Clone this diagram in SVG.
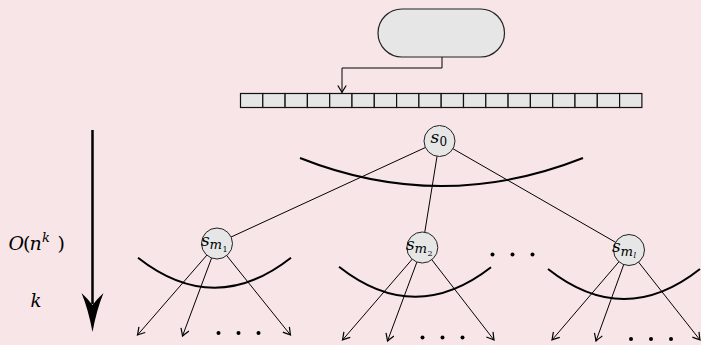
<svg xmlns="http://www.w3.org/2000/svg" width="701" height="345" viewBox="0 0 701 345">
  <style>
    .bg { fill: #f8e5e7; }
    .box { fill: #e6e6e6; stroke: #222; stroke-width: 1.2; }
    .cell { fill: #e6e6e6; stroke: #111; stroke-width: 1.2; }
    .node { fill: #e6e6e6; stroke: #222; stroke-width: 1; }
    .edge { fill: none; stroke: #000; stroke-width: 1; }
    .arc { fill: none; stroke: #000; stroke-width: 2; }
    .dot { fill: #000; }
    .mi { font-family: 'DejaVu Serif', 'Liberation Serif', serif; font-style: italic; fill: #000; }
    .mr { font-family: 'DejaVu Serif', 'Liberation Serif', serif; fill: #000; }
  </style>
  <defs>
    <marker id="to" viewBox="-8 -5 10 10" refX="0" refY="0" markerWidth="10" markerHeight="10" markerUnits="userSpaceOnUse" orient="auto">
      <path d="M-7,-4.2 Q-2,-1.1 0,0 Q-2,1.1 -7,4.2" fill="none" stroke="#000" stroke-width="1.2"/>
    </marker>
  </defs>

  <rect class="bg" x="0" y="0" width="701" height="345"/>

  <!-- connectors -->
  <g id="connectors">
    <path class="edge" d="M442,57 V68 H342 V92.5" marker-end="url(#to)"/>
    <line class="edge" x1="439.5" y1="141" x2="217" y2="243.5"/>
    <line class="edge" x1="439.5" y1="141" x2="422.3" y2="247.5"/>
    <line class="edge" x1="439.5" y1="141" x2="629" y2="250"/>

    <line class="edge" x1="217" y1="243.5" x2="137.5" y2="335" marker-end="url(#to)"/>
    <line class="edge" x1="217" y1="243.5" x2="182.5" y2="336" marker-end="url(#to)"/>
    <line class="edge" x1="217" y1="243.5" x2="290.5" y2="335" marker-end="url(#to)"/>

    <line class="edge" x1="422.3" y1="247.5" x2="342.5" y2="340" marker-end="url(#to)"/>
    <line class="edge" x1="422.3" y1="247.5" x2="387.5" y2="341" marker-end="url(#to)"/>
    <line class="edge" x1="422.3" y1="247.5" x2="494" y2="340" marker-end="url(#to)"/>

    <line class="edge" x1="629" y1="250" x2="552" y2="340" marker-end="url(#to)"/>
    <line class="edge" x1="629" y1="250" x2="596" y2="341" marker-end="url(#to)"/>
    <line class="edge" x1="629" y1="250" x2="700" y2="340" marker-end="url(#to)"/>
  </g>

  <!-- level arcs -->
  <g id="arcs">
    <path class="arc" d="M300,158 Q441,214 583,158"/>
    <path class="arc" d="M138,257.7 Q214.5,317.7 291,257.7"/>
    <path class="arc" d="M339,266.7 Q415,326.5 491,267.3"/>
    <path class="arc" d="M548,269 Q624,329 700,269"/>
  </g>

  <!-- rounded box -->
  <g id="pill">
    <rect class="box" x="378" y="9" width="126.5" height="48" rx="24" ry="24"/>
  </g>

  <!-- array of 18 cells -->
  <g id="array">
    <rect class="cell" x="240.5" y="93.5" width="22.3" height="14"/>
    <rect class="cell" x="262.8" y="93.5" width="22.3" height="14"/>
    <rect class="cell" x="285.1" y="93.5" width="22.3" height="14"/>
    <rect class="cell" x="307.4" y="93.5" width="22.3" height="14"/>
    <rect class="cell" x="329.7" y="93.5" width="22.3" height="14"/>
    <rect class="cell" x="352.0" y="93.5" width="22.3" height="14"/>
    <rect class="cell" x="374.3" y="93.5" width="22.3" height="14"/>
    <rect class="cell" x="396.6" y="93.5" width="22.3" height="14"/>
    <rect class="cell" x="418.9" y="93.5" width="22.3" height="14"/>
    <rect class="cell" x="441.2" y="93.5" width="22.3" height="14"/>
    <rect class="cell" x="463.5" y="93.5" width="22.3" height="14"/>
    <rect class="cell" x="485.8" y="93.5" width="22.3" height="14"/>
    <rect class="cell" x="508.1" y="93.5" width="22.3" height="14"/>
    <rect class="cell" x="530.4" y="93.5" width="22.3" height="14"/>
    <rect class="cell" x="552.7" y="93.5" width="22.3" height="14"/>
    <rect class="cell" x="575.0" y="93.5" width="22.3" height="14"/>
    <rect class="cell" x="597.3" y="93.5" width="22.3" height="14"/>
    <rect class="cell" x="619.6" y="93.5" width="22.3" height="14"/>
  </g>

  <!-- tree nodes -->
  <g id="s0">
    <circle class="node" cx="439.5" cy="141" r="15.5"/>
    <text class="mi" x="430.5" y="143" font-size="17">s</text>
    <text class="mr" x="439.5" y="145.5" font-size="12">0</text>
  </g>
  <g id="sm1">
    <circle class="node" cx="217" cy="243.5" r="15.5"/>
    <text class="mi" x="201" y="245.5" font-size="17">s</text>
    <text class="mi" x="209.5" y="249" font-size="13" textLength="12.5" lengthAdjust="spacingAndGlyphs">m</text>
    <text class="mr" x="222.5" y="251.5" font-size="8">1</text>
  </g>
  <g id="sm2">
    <circle class="node" cx="422.3" cy="247.5" r="15.5"/>
    <text class="mi" x="406" y="249.5" font-size="17">s</text>
    <text class="mi" x="414.5" y="253" font-size="13" textLength="12.5" lengthAdjust="spacingAndGlyphs">m</text>
    <text class="mr" x="427.5" y="255.5" font-size="8">2</text>
  </g>
  <g id="sml">
    <circle class="node" cx="629" cy="250" r="15.5"/>
    <text class="mi" x="612" y="252" font-size="17">s</text>
    <text class="mi" x="620.5" y="255.5" font-size="13" textLength="12.5" lengthAdjust="spacingAndGlyphs">m</text>
    <text class="mi" x="633.5" y="258" font-size="8">l</text>
  </g>

  <!-- ellipsis dots -->
  <g id="dots">
    <circle class="dot" cx="218.5" cy="333" r="2"/>
    <circle class="dot" cx="238.5" cy="333" r="2"/>
    <circle class="dot" cx="258.5" cy="333" r="2"/>
    <circle class="dot" cx="422.5" cy="337.5" r="2"/>
    <circle class="dot" cx="442.5" cy="337.5" r="2"/>
    <circle class="dot" cx="462.5" cy="337.5" r="2"/>
    <circle class="dot" cx="631" cy="339" r="2"/>
    <circle class="dot" cx="651" cy="339" r="2"/>
    <circle class="dot" cx="671" cy="339" r="2"/>
    <circle class="dot" cx="492.5" cy="254.5" r="2"/>
    <circle class="dot" cx="512.5" cy="254.5" r="2"/>
    <circle class="dot" cx="532.5" cy="254.5" r="2"/>
  </g>

  <!-- depth arrow and labels -->
  <g id="depth-arrow">
    <line x1="92.5" y1="130" x2="92.5" y2="304" stroke="#000" stroke-width="2.5"/>
    <path d="M92.5,332 Q88.5,310 81.5,293 Q88,299 92.5,305 Q97,299 103.5,293 Q96.5,310 92.5,332 Z" fill="#000"/>
  </g>
  <g id="labels">
    <text class="mi" x="8.5" y="250" font-size="19">O</text>
    <text class="mr" x="23" y="250" font-size="19">(</text>
    <text class="mi" x="29.5" y="250" font-size="19">n</text>
    <text class="mi" x="42" y="242" font-size="13">k</text>
    <text class="mr" x="57.5" y="250" font-size="19">)</text>
    <text class="mi" x="30.5" y="307" font-size="18">k</text>
  </g>
</svg>
